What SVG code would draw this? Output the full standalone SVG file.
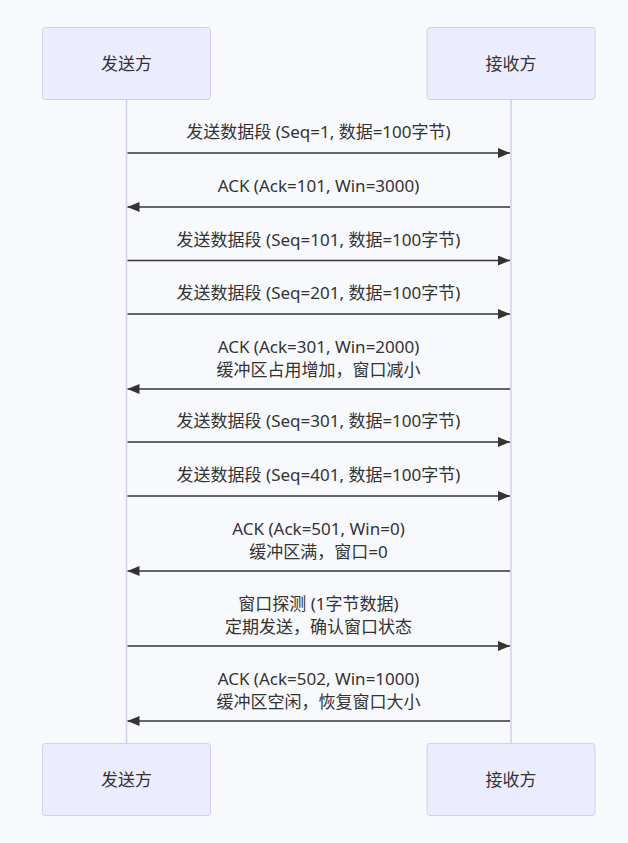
<svg xmlns="http://www.w3.org/2000/svg" width="628" height="843" viewBox="0 0 628 843">
<style>
.bg{fill:#f8f9fc}
.actor rect{fill:#ececff;stroke:#d6cdf3;stroke-width:1}
.actor text{font-family:"Noto Sans","Noto Sans CJK SC",sans-serif;font-size:17px;fill:#333;text-anchor:middle;dominant-baseline:central}
.life{stroke:#d6cdf3;stroke-width:1.5}
.msg{stroke:#333;stroke-width:1.5;fill:none}
.lbl{font-family:"Noto Sans","Noto Sans CJK SC",sans-serif;font-size:17px;fill:#333;text-anchor:middle}
</style>
<defs>
<marker id="ah" markerUnits="userSpaceOnUse" markerWidth="12" markerHeight="10" refX="12" refY="5" orient="auto">
<path d="M0,0 L12,5 L0,10 z" fill="#333"/>
</marker>
</defs>
<rect class="bg" x="0" y="0" width="628" height="843"/>
<g id="lifelines">
<line class="life" x1="126.5" y1="99" x2="126.5" y2="743"/>
<line class="life" x1="511" y1="99" x2="511" y2="743"/>
</g>
<g id="sender-top" class="actor"><rect x="42.5" y="27.5" width="168" height="72" rx="3"/><text x="126.5" y="63.5">发送方</text></g>
<g id="receiver-top" class="actor"><rect x="427" y="27.5" width="168" height="72" rx="3"/><text x="511" y="63.5">接收方</text></g>
<g id="sender-bottom" class="actor"><rect x="42.5" y="743.5" width="168" height="72" rx="3"/><text x="126.5" y="779.5">发送方</text></g>
<g id="receiver-bottom" class="actor"><rect x="427" y="743.5" width="168" height="72" rx="3"/><text x="511" y="779.5">接收方</text></g>
<g id="connectors">
<line class="msg" x1="127.5" y1="153" x2="510" y2="153" marker-end="url(#ah)"/>
<line class="msg" x1="510" y1="207" x2="127.5" y2="207" marker-end="url(#ah)"/>
<line class="msg" x1="127.5" y1="260.5" x2="510" y2="260.5" marker-end="url(#ah)"/>
<line class="msg" x1="127.5" y1="314" x2="510" y2="314" marker-end="url(#ah)"/>
<line class="msg" x1="510" y1="389" x2="127.5" y2="389" marker-end="url(#ah)"/>
<line class="msg" x1="127.5" y1="442" x2="510" y2="442" marker-end="url(#ah)"/>
<line class="msg" x1="127.5" y1="496" x2="510" y2="496" marker-end="url(#ah)"/>
<line class="msg" x1="510" y1="571" x2="127.5" y2="571" marker-end="url(#ah)"/>
<line class="msg" x1="127.5" y1="646" x2="510" y2="646" marker-end="url(#ah)"/>
<line class="msg" x1="510" y1="721" x2="127.5" y2="721" marker-end="url(#ah)"/>
</g>
<g id="labels">
<text class="lbl" x="318.5" y="138">发送数据段 (Seq=1, 数据=100字节)</text>
<text class="lbl" x="318.5" y="192">ACK (Ack=101, Win=3000)</text>
<text class="lbl" x="318.5" y="245.5">发送数据段 (Seq=101, 数据=100字节)</text>
<text class="lbl" x="318.5" y="299">发送数据段 (Seq=201, 数据=100字节)</text>
<text class="lbl" x="318.5" y="353">ACK (Ack=301, Win=2000)</text>
<text class="lbl" x="318.5" y="375.5">缓冲区占用增加，窗口减小</text>
<text class="lbl" x="318.5" y="427">发送数据段 (Seq=301, 数据=100字节)</text>
<text class="lbl" x="318.5" y="481">发送数据段 (Seq=401, 数据=100字节)</text>
<text class="lbl" x="318.5" y="535">ACK (Ack=501, Win=0)</text>
<text class="lbl" x="318.5" y="557.5">缓冲区满，窗口=0</text>
<text class="lbl" x="318.5" y="610">窗口探测 (1字节数据)</text>
<text class="lbl" x="318.5" y="632.5">定期发送，确认窗口状态</text>
<text class="lbl" x="318.5" y="685">ACK (Ack=502, Win=1000)</text>
<text class="lbl" x="318.5" y="707.5">缓冲区空闲，恢复窗口大小</text>
</g>
</svg>
